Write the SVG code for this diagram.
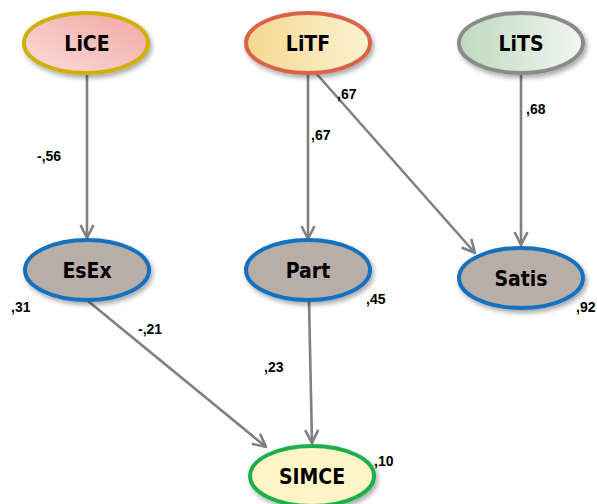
<svg xmlns="http://www.w3.org/2000/svg" width="597" height="504" viewBox="0 0 597 504">
<style>
.lbl{font-family:"DejaVu Sans Condensed","DejaVu Sans",sans-serif;font-stretch:condensed;font-weight:bold;font-size:21px;fill:#000;text-anchor:middle;dominant-baseline:central}
.num{font-family:"Liberation Sans",Arial,sans-serif;font-weight:bold;font-size:14px;fill:#000}
.edge{stroke:#808080;stroke-width:2.6;fill:none;marker-end:url(#arr)}
.node{stroke-width:4;filter:url(#sh)}
</style>
<defs>
<marker id="arr" viewBox="0 0 12 12" refX="11" refY="6" markerWidth="6" markerHeight="6" markerUnits="strokeWidth" orient="auto">
<path d="M1,1 L11,6 L1,11" fill="none" stroke="#808080" stroke-width="2"/>
</marker>
<filter id="sh" x="-20%" y="-20%" width="150%" height="160%">
<feGaussianBlur in="SourceAlpha" stdDeviation="2.5"/>
<feOffset dx="2" dy="3" result="b"/>
<feComponentTransfer><feFuncA type="linear" slope="0.35"/></feComponentTransfer>
<feMerge><feMergeNode/><feMergeNode in="SourceGraphic"/></feMerge>
</filter>
<linearGradient id="gCE" x1="0" y1="1" x2="1" y2="0"><stop offset="0" stop-color="#fadcda"/><stop offset="1" stop-color="#f1a7a1"/></linearGradient>
<linearGradient id="gTF" x1="0" y1="0" x2="1" y2="0"><stop offset="0" stop-color="#f5d88f"/><stop offset="1" stop-color="#fcf2d4"/></linearGradient>
<linearGradient id="gTS" x1="0" y1="0" x2="1" y2="0"><stop offset="0" stop-color="#bfd9bf"/><stop offset="1" stop-color="#f1f6f1"/></linearGradient>
</defs>
<g id="connectors">
<line class="edge" x1="87" y1="73" x2="87" y2="238"/>
<line class="edge" x1="308" y1="73" x2="308" y2="239"/>
<line class="edge" x1="315" y1="72" x2="475" y2="253"/>
<line class="edge" x1="521" y1="73" x2="521" y2="245"/>
<line class="edge" x1="88" y1="301" x2="266" y2="447"/>
<line class="edge" x1="309" y1="301" x2="312" y2="443"/>
</g>
<g id="LiCE"><ellipse class="node" cx="86" cy="43" rx="62" ry="30" fill="url(#gCE)" stroke="#cfb000"/><text class="lbl" x="87" y="44">LiCE</text></g>
<g id="LiTF"><ellipse class="node" cx="308" cy="43" rx="62" ry="30" fill="url(#gTF)" stroke="#d9644a"/><text class="lbl" x="308" y="44">LiTF</text></g>
<g id="LiTS"><ellipse class="node" cx="521" cy="43" rx="62" ry="30" fill="url(#gTS)" stroke="#8a8a8a"/><text class="lbl" x="521" y="44">LiTS</text></g>
<g id="EsEx"><ellipse class="node" cx="87" cy="270" rx="62" ry="30" fill="#b8aea8" stroke="#1670c0"/><text class="lbl" x="87" y="271">EsEx</text></g>
<g id="Part"><ellipse class="node" cx="308" cy="270" rx="62" ry="30" fill="#b8aea8" stroke="#1670c0"/><text class="lbl" x="308" y="271">Part</text></g>
<g id="Satis"><ellipse class="node" cx="521" cy="278" rx="62" ry="30" fill="#b8aea8" stroke="#1670c0"/><text class="lbl" x="521" y="279">Satis</text></g>
<g id="SIMCE"><ellipse class="node" cx="312" cy="476" rx="62" ry="30" fill="#fdf5c6" stroke="#1db04a"/><text class="lbl" x="312" y="477">SIMCE</text></g>
<g id="labels">
<text class="num" x="37" y="161">-,56</text>
<text class="num" x="311" y="140">,67</text>
<text class="num" x="337" y="99">,67</text>
<text class="num" x="526" y="114">,68</text>
<text class="num" x="11" y="312">,31</text>
<text class="num" x="366" y="304">,45</text>
<text class="num" x="576" y="312">,92</text>
<text class="num" x="138" y="334">-,21</text>
<text class="num" x="264" y="372">,23</text>
<text class="num" x="374" y="466">,10</text>
</g>
</svg>
